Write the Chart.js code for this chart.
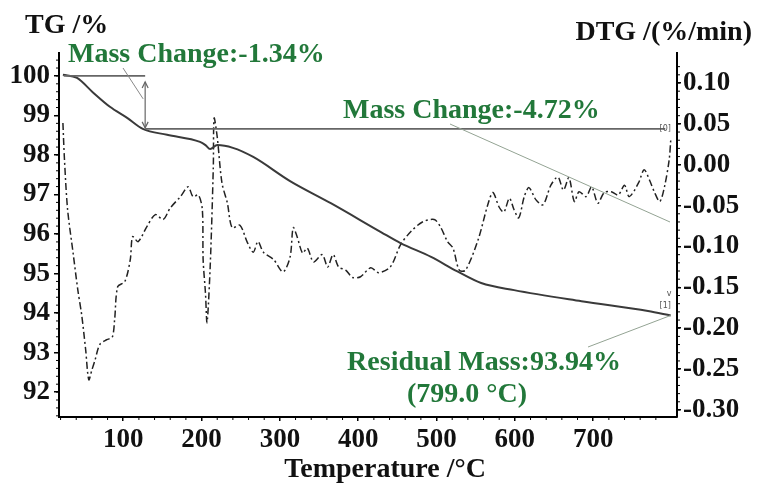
<!DOCTYPE html>
<html>
<head>
<meta charset="utf-8">
<script src="https://cdn.jsdelivr.net/npm/chart.js@4.4.1/dist/chart.umd.min.js"></script>
<style>
  body { margin: 0; background: #fff; }
  #wrap { width: 759px; height: 483px; position: relative; }
</style>
</head>
<body>
<div id="wrap"><canvas id="tga"></canvas></div>
<script>
// TG curve: temperature (°C) and remaining mass (%)
const tgTemp = [23, 41, 61, 83, 105, 125, 156, 198, 205, 211, 220, 240, 266, 313, 365, 429, 454, 493, 526, 557, 599, 685, 770, 799];
const tgMass = [100.03, 99.95, 99.59, 99.22, 98.94, 98.66, 98.51, 98.33, 98.25, 98.15, 98.25, 98.18, 97.95, 97.34, 96.78, 96.05, 95.77, 95.42, 95.06, 94.76, 94.58, 94.30, 94.05, 93.94];

// DTG curve: temperature (°C) and rate (%/min)
const dtgTemp = [23, 25, 29, 36, 42, 47, 52, 56, 60, 64, 70, 79, 86, 89, 93, 102, 109, 112, 119, 130, 141, 151, 160, 173, 183, 189, 196, 201, 202, 205, 207, 211, 215, 216, 220, 226, 233, 239, 249, 258, 266, 272, 279, 292, 304, 313, 317, 322, 329, 335, 343, 354, 361, 368, 375, 384, 393, 403, 416, 426, 441, 454, 467, 482, 497, 505, 514, 521, 529, 537, 553, 566, 572, 580, 586, 593, 599, 605, 612, 618, 627, 636, 646, 655, 662, 669, 676, 682, 691, 698, 706, 714, 723, 732, 740, 746, 758, 765, 772, 778, 785, 791, 797, 799];
const dtgRate = [0.051, 0.006, -0.055, -0.108, -0.153, -0.184, -0.226, -0.263, -0.251, -0.239, -0.220, -0.214, -0.211, -0.190, -0.149, -0.143, -0.116, -0.088, -0.094, -0.076, -0.061, -0.067, -0.053, -0.039, -0.027, -0.039, -0.037, -0.055, -0.116, -0.157, -0.193, -0.125, -0.003, 0.057, 0.034, -0.022, -0.047, -0.077, -0.074, -0.094, -0.107, -0.094, -0.107, -0.116, -0.131, -0.113, -0.077, -0.088, -0.108, -0.102, -0.119, -0.110, -0.125, -0.110, -0.125, -0.129, -0.138, -0.137, -0.126, -0.132, -0.125, -0.098, -0.082, -0.070, -0.067, -0.076, -0.094, -0.102, -0.129, -0.129, -0.092, -0.047, -0.034, -0.052, -0.058, -0.041, -0.055, -0.065, -0.039, -0.028, -0.043, -0.049, -0.025, -0.015, -0.031, -0.016, -0.045, -0.033, -0.039, -0.027, -0.047, -0.034, -0.033, -0.037, -0.025, -0.039, -0.022, -0.006, -0.019, -0.033, -0.045, -0.027, 0.006, 0.030];

const tempTicks = [100, 200, 300, 400, 500, 600, 700];
const massTicks = [92, 93, 94, 95, 96, 97, 98, 99, 100];
const rateTicks = [-0.30, -0.25, -0.20, -0.15, -0.10, -0.05, 0.00, 0.05, 0.10];

// mass-change steps
const massStart = 100.0;
const stepTemp = 128;
const stepMass = 98.66;
const residualTemp = 799;
const residualMass = 93.94;

const serif = "'Liberation Serif', 'Times New Roman', serif";
const green = '#22783a';
const tickFont = { family: serif, size: 27, weight: 'bold' };

function line(ctx, x1, y1, x2, y2) {
  ctx.beginPath();
  ctx.moveTo(x1, y1);
  ctx.lineTo(x2, y2);
  ctx.stroke();
}

function arrowHead(ctx, x, y, dir) {
  ctx.beginPath();
  ctx.moveTo(x - 3, y - dir * 6);
  ctx.lineTo(x, y);
  ctx.lineTo(x + 3, y - dir * 6);
  ctx.stroke();
}

const annotations = {
  id: 'annotations',
  afterDraw(chart) {
    const { ctx, scales: { x, y, y2 } } = chart;
    ctx.save();

    // minor ticks
    ctx.strokeStyle = '#000';
    ctx.lineWidth = 1;
    for (let t = 20; t <= 800; t += 20) {
      if (t % 100 === 0) continue;
      const px = x.getPixelForValue(t);
      line(ctx, px, x.top, px, x.top + 3);
    }
    for (let m = 91.4; m <= 100.5; m += 0.2) {
      const py = y.getPixelForValue(m);
      line(ctx, y.right - 3, py, y.right, py);
    }
    for (let r = -0.30; r <= 0.13; r += 0.01) {
      const py = y2.getPixelForValue(r);
      line(ctx, y2.left, py, y2.left + 3, py);
    }

    // step markers
    const y0 = y.getPixelForValue(massStart);
    const y1 = y.getPixelForValue(stepMass);
    const xs = x.getPixelForValue(stepTemp);
    ctx.strokeStyle = '#666';
    ctx.lineWidth = 1.6;
    line(ctx, x.getPixelForValue(24), y0, xs, y0);
    line(ctx, xs, y1, x.getPixelForValue(792), y1);
    ctx.lineWidth = 1.2;
    line(ctx, xs, y0 + 6, xs, y1 - 1);
    arrowHead(ctx, xs, y0 + 6, -1);
    arrowHead(ctx, xs, y1 - 1, 1);

    // small end labels
    ctx.fillStyle = '#555';
    ctx.font = "8px 'DejaVu Sans', sans-serif";
    ctx.textAlign = 'center';
    ctx.textBaseline = 'middle';
    ctx.fillText('[0]', x.getPixelForValue(792), y1);
    const yr = y.getPixelForValue(residualMass);
    ctx.fillText('[1]', x.getPixelForValue(792), yr - 10);
    ctx.fillText('v', x.getPixelForValue(797), yr - 22);

    // leader lines
    ctx.strokeStyle = '#888';
    ctx.lineWidth = 1;
    line(ctx, 123, 68, xs - 2, y1 - 30);
    ctx.strokeStyle = '#93a393';
    line(ctx, 450, 124, 670, 222);
    line(ctx, 588, 347, x.getPixelForValue(residualTemp), yr);

    // axis titles and labels
    ctx.font = 'bold 28px ' + serif;
    ctx.textBaseline = 'alphabetic';
    ctx.fillStyle = '#111';
    ctx.textAlign = 'left';
    ctx.fillText('TG /%', 25, 33);
    ctx.textAlign = 'right';
    ctx.fillText('DTG /(%/min)', 752, 40);
    ctx.textAlign = 'center';
    ctx.fillText('Temperature /°C', 385, 477);

    ctx.fillStyle = green;
    ctx.textAlign = 'left';
    ctx.fillText('Mass Change:-1.34%', 68, 62);
    ctx.fillText('Mass Change:-4.72%', 343, 118);
    ctx.textAlign = 'center';
    ctx.fillText('Residual Mass:93.94%', 484, 370);
    ctx.fillText('(799.0 °C)', 467, 402);

    ctx.restore();
  }
};

new Chart(document.getElementById('tga'), {
  type: 'line',
  data: {
    datasets: [
      {
        label: 'TG',
        data: tgTemp.map((t, i) => ({ x: t, y: tgMass[i] })),
        yAxisID: 'y',
        borderColor: '#3a3a3a',
        borderWidth: 2,
        pointRadius: 0,
        cubicInterpolationMode: 'monotone',
        fill: false
      },
      {
        label: 'DTG',
        data: dtgTemp.map((t, i) => ({ x: t, y: dtgRate[i] })),
        yAxisID: 'y2',
        borderColor: '#222',
        borderWidth: 1.5,
        borderDash: [7, 3, 2, 3],
        pointRadius: 0,
        tension: 0.3,
        fill: false
      }
    ]
  },
  options: {
    responsive: true,
    maintainAspectRatio: false,
    animation: false,
    layout: { padding: { top: 53, left: 0, right: 0, bottom: 0 } },
    plugins: { legend: { display: false }, tooltip: { enabled: false } },
    scales: {
      x: {
        type: 'linear',
        min: 18,
        max: 807,
        afterFit: (s) => { s.height = 66; },
        afterBuildTicks: (s) => { s.ticks = tempTicks.map(v => ({ value: v })); },
        border: { display: true, color: '#000', width: 2 },
        grid: { drawOnChartArea: false, drawTicks: true, tickLength: 4, color: '#000', lineWidth: 1.5 },
        ticks: { font: tickFont, color: '#111', padding: 3, maxRotation: 0 }
      },
      y: {
        position: 'left',
        min: 91.37,
        max: 100.58,
        afterFit: (s) => { s.width = 59; },
        afterBuildTicks: (s) => { s.ticks = massTicks.map(v => ({ value: v })); },
        border: { display: true, color: '#000', width: 2 },
        grid: { drawOnChartArea: false, drawTicks: true, tickLength: 5, color: '#000', lineWidth: 1.5 },
        ticks: { font: tickFont, color: '#111', padding: 4 }
      },
      y2: {
        position: 'right',
        min: -0.3086,
        max: 0.1367,
        afterFit: (s) => { s.width = 82; },
        afterBuildTicks: (s) => { s.ticks = rateTicks.map(v => ({ value: v })); },
        border: { display: true, color: '#000', width: 2 },
        grid: { drawOnChartArea: false, drawTicks: true, tickLength: 4, color: '#000', lineWidth: 1.5 },
        ticks: { font: tickFont, color: '#111', padding: 2, callback: (v) => v.toFixed(2) }
      }
    }
  },
  plugins: [annotations]
});
</script>
</body>
</html>
